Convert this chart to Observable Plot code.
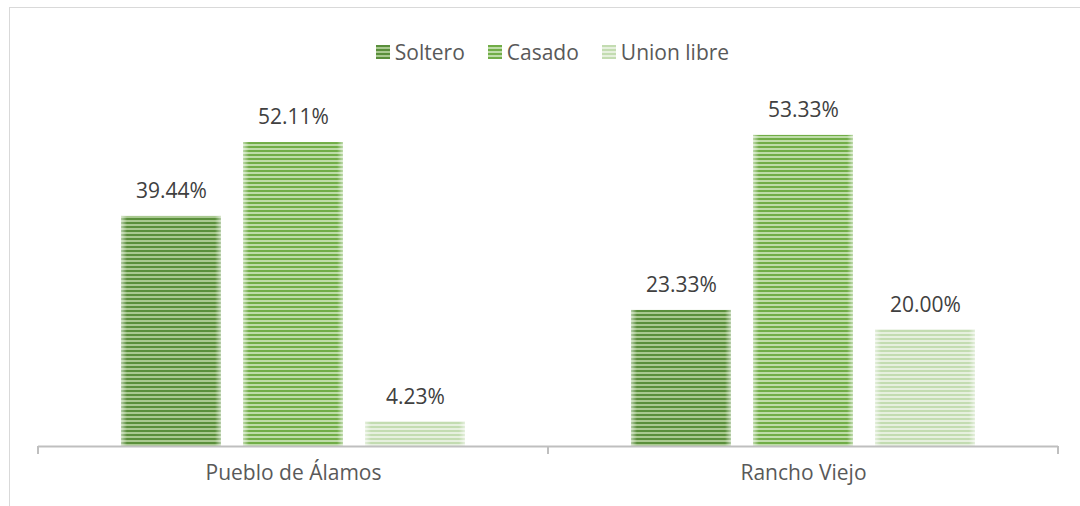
<!DOCTYPE html>
<html>
<head>
<meta charset="utf-8">
<script src="https://cdn.jsdelivr.net/npm/d3@7"></script>
<script src="https://cdn.jsdelivr.net/npm/@observablehq/plot@0.6"></script>
<style>
  html, body { margin: 0; padding: 0; background: #fff; }
  #wrap { position: relative; width: 1080px; height: 506px; overflow: hidden; font-family: "Open Sans", sans-serif; }
  #frame { position: absolute; left: 9px; top: 7px; width: 1100px; height: 520px; border: 1px solid #d9d9d9; box-sizing: border-box; pointer-events: none; }
  #legend { height: 70px; box-sizing: border-box; padding-top: 33px; padding-left: 25px; display: flex; justify-content: center; align-items: center; gap: 23px; font-size: 21px; color: #595959; line-height: 24px; }
  .item { display: flex; align-items: center; gap: 5px; height: 24px; }
  #defs { position: absolute; width: 0; height: 0; }
</style>
</head>
<body>
<div id="wrap">
  <svg id="defs" width="0" height="0"></svg>
  <div id="frame"></div>
  <div id="legend"></div>
  <div id="chart"></div>
</div>
<script>
// Data
const categories = ["Pueblo de Álamos", "Rancho Viejo"];
const series = ["Soltero", "Casado", "Union libre"];
const soltero = [39.44, 23.33];
const casado = [52.11, 53.33];
const unionLibre = [4.23, 20.00];

// Styling
const patternColors = {
  "Soltero": ["#5a8f3b", "#a9c990"],
  "Casado": ["#71ad47", "#bedca8"],
  "Union libre": ["#c3dcb1", "#e6f0de"]
};
const patternId = s => "pat-" + series.indexOf(s);

// Defs (patterns + edge gradient)
const defs = d3.select("#defs").append("defs");
for (const s of series) {
  const [fg, bg] = patternColors[s];
  const p = defs.append("pattern").attr("id", patternId(s))
    .attr("patternUnits", "userSpaceOnUse").attr("width", 8).attr("height", 4);
  p.append("rect").attr("width", 8).attr("height", 4).attr("fill", bg);
  p.append("rect").attr("width", 8).attr("height", 2).attr("fill", fg);
}
const g = defs.append("linearGradient").attr("id", "edge").attr("x1", 0).attr("x2", 1).attr("y1", 0).attr("y2", 0);
[[0, 0.55], [0.06, 0], [0.94, 0], [1, 0.55]].forEach(([o, a]) =>
  g.append("stop").attr("offset", o).attr("stop-color", "#fff").attr("stop-opacity", a));

// Table
const values = {"Soltero": soltero, "Casado": casado, "Union libre": unionLibre};
const rows = [];
categories.forEach((c, i) => series.forEach(s => rows.push({cat: c, series: s, value: values[s][i]})));

// Legend
const legend = d3.select("#legend");
for (const s of series) {
  const it = legend.append("div").attr("class", "item");
  it.append("svg").attr("width", 14).attr("height", 14)
    .append("rect").attr("width", 14).attr("height", 14).attr("fill", `url(#${patternId(s)})`);
  it.append("span").text(s);
}

const chart = Plot.plot({
  width: 1080,
  height: 436,
  marginTop: 26,
  marginBottom: 60,
  marginLeft: 38,
  marginRight: 22,
  style: {fontFamily: "Open Sans, sans-serif", fontSize: "21px", color: "#595959", background: "transparent"},
  fx: {domain: categories, padding: 0, label: null},
  x: {domain: series, paddingInner: 0.18, paddingOuter: 0.68, axis: null},
  y: {domain: [0, 60], axis: null},
  marks: [
    ...series.map(s => Plot.barY(rows.filter(d => d.series === s), {fx: "cat", x: "series", y: "value", fill: `url(#${patternId(s)})`})),
    Plot.barY(rows, {fx: "cat", x: "series", y: "value", fill: "url(#edge)"}),
    Plot.ruleY([0], {stroke: "#bfbfbf", strokeWidth: 2}),
    Plot.text(rows, {fx: "cat", x: "series", y: "value", text: d => d.value.toFixed(2) + "%", dy: -25, lineAnchor: "middle", fill: "#404040", fontSize: 21}),
    Plot.axisFx({anchor: "bottom", tickSize: 0, tickPadding: 19, fill: "#595959", fontSize: 21, label: null})
  ]
});
document.getElementById("chart").appendChild(chart);

// Category-boundary tick marks from the fx scale
const fx = chart.scale("fx");
const y0 = chart.scale("y").apply(0);
const edges = [];
categories.forEach(c => { const a = fx.apply(c); edges.push(a, a + fx.bandwidth); });
d3.select(chart).append("g").selectAll("line").data([...new Set(edges.map(e => Math.round(e)))]).join("line")
  .attr("x1", d => d).attr("x2", d => d).attr("y1", y0).attr("y2", y0 + 8)
  .attr("stroke", "#bfbfbf").attr("stroke-width", 2);
</script>
</body>
</html>
